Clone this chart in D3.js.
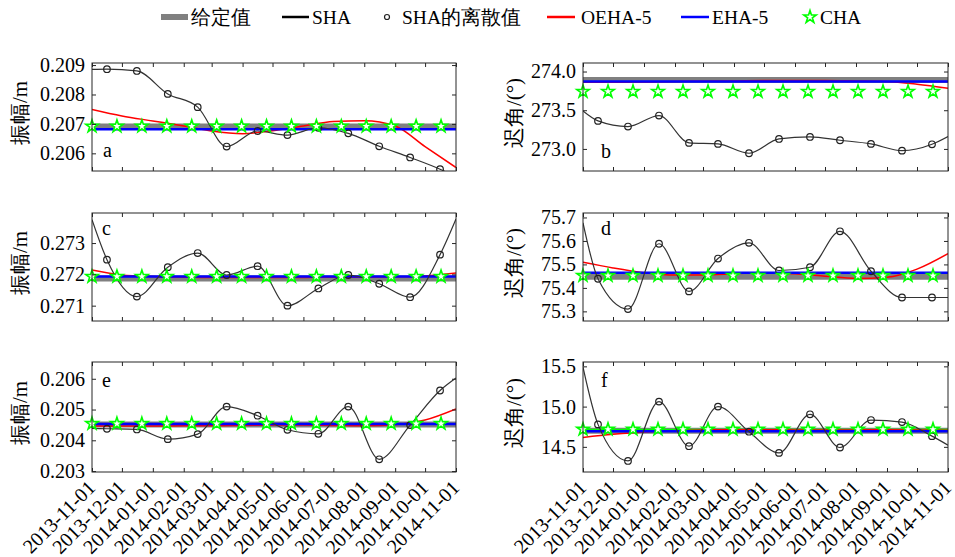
<!DOCTYPE html>
<html>
<head>
<meta charset="utf-8">
<script src="https://cdn.jsdelivr.net/npm/d3@7"></script>
<style>
  body { margin: 0; background: #fff; }
</style>
</head>
<body>
<div id="chart"></div>
<script>
// dates
const tickDates = ["2013-11-01", "2013-12-01", "2014-01-01", "2014-02-01", "2014-03-01", "2014-04-01",
  "2014-05-01", "2014-06-01", "2014-07-01", "2014-08-01", "2014-09-01", "2014-10-01", "2014-11-01"];
const midDates = ["2013-11-16", "2013-12-16", "2014-01-16", "2014-02-15", "2014-03-16", "2014-04-16",
  "2014-05-16", "2014-06-16", "2014-07-16", "2014-08-16", "2014-09-16", "2014-10-16"];
const chaDates = ["2013-11-01", "2013-11-26", "2013-12-21", "2014-01-15", "2014-02-09", "2014-03-06",
  "2014-03-31", "2014-04-25", "2014-05-20", "2014-06-14", "2014-07-09", "2014-08-03",
  "2014-08-28", "2014-09-22", "2014-10-17"];

// panel a : amplitude
const shaA = [0.20886, 0.20880, 0.20802, 0.20757, 0.20623, 0.20676, 0.20662, 0.20687, 0.20668, 0.20624, 0.20586, 0.20546];
const shaEndsA = [0.20885, 0.20520];
const oehaA = [0.20749, 0.20727, 0.20710, 0.20693, 0.20676, 0.20667, 0.20677, 0.20693, 0.20708, 0.20711, 0.20693, 0.20623, 0.20552];
const givenA = 0.20691, ehaA = 0.20682, chaA = 0.20692;
const ticksA = [0.206, 0.207, 0.208, 0.209];

// panel b : phase
const shaB = [273.362, 273.289, 273.431, 273.078, 273.065, 272.944, 273.129, 273.155, 273.112, 273.065, 272.978, 273.060];
const shaEndsB = [273.49, 273.16];
const oehaB = [273.862, 273.862, 273.866, 273.871, 273.875, 273.879, 273.884, 273.884, 273.884, 273.879, 273.871, 273.836, 273.784];
const givenB = 273.89, ehaB = 273.87, chaB = 273.741;
const ticksB = [273.0, 273.5, 274.0];

// panel c
const shaC = [0.27247, 0.27129, 0.27223, 0.27268, 0.27198, 0.27226, 0.27100, 0.27155, 0.27198, 0.27170, 0.27127, 0.27263];
const shaEndsC = [0.27375, 0.27377];
const oehaC = [0.27214, 0.27198, 0.27193, 0.27191, 0.27190, 0.27190, 0.27190, 0.27190, 0.27191, 0.27191, 0.27192, 0.27195, 0.27204];
const givenC = 0.27187, ehaC = 0.27193, chaC = 0.27193;
const ticksC = [0.271, 0.272, 0.273];

// panel d
const shaD = [75.439, 75.310, 75.588, 75.385, 75.525, 75.592, 75.474, 75.488, 75.641, 75.471, 75.359, 75.359];
const shaEndsD = [75.677, 75.359];
const oehaD = [75.509, 75.485, 75.465, 75.455, 75.455, 75.460, 75.465, 75.460, 75.450, 75.440, 75.445, 75.480, 75.546];
const givenD = 75.448, ehaD = 75.464, chaD = 75.452;
const ticksD = [75.3, 75.4, 75.5, 75.6, 75.7];

// panel e
const shaE = [0.204375, 0.204353, 0.204037, 0.204201, 0.205095, 0.204800, 0.204342, 0.204212, 0.205095, 0.203383, 0.204495, 0.205618];
const shaEndsE = [0.204386, 0.206022];
const oehaE = [0.204462, 0.204462, 0.204462, 0.204473, 0.204473, 0.204484, 0.204495, 0.204495, 0.204484, 0.204473, 0.204506, 0.204659, 0.205019];
const givenE = 0.20451, ehaE = 0.20453, chaE = 0.20454;
const ticksE = [0.203, 0.204, 0.205, 0.206];

// panel f
const shaF = [14.779, 14.325, 15.062, 14.508, 15.000, 14.688, 14.425, 14.904, 14.492, 14.833, 14.808, 14.633];
const shaEndsF = [15.49, 14.521];
const oehaF = [14.617, 14.655, 14.685, 14.700, 14.710, 14.712, 14.712, 14.710, 14.708, 14.710, 14.712, 14.710, 14.705];
const givenF = 14.70, ehaF = 14.695, chaF = 14.717;
const ticksF = [14.5, 15.0, 15.5];

const legendNames = ["给定值", "SHA", "SHA的离散值", "OEHA-5", "EHA-5", "CHA"];

const W = 955, H = 557;
const FONT = "'Liberation Serif', 'Times New Roman', Times, serif";
const parse = d3.timeParse("%Y-%m-%d");
const fmtDate = d3.timeFormat("%Y-%m-%d");
const starSize = 48;

const svg = d3.select("#chart").append("svg")
    .attr("width", W)
    .attr("height", H);

const panels = [
  { id: "a", x0: 92, y0: 63, w: 364, h: 108, dom: [0.20540, 0.20907], ticks: ticksA, fmt: ".3f", sha: shaA, ends: shaEndsA, oeha: oehaA, given: givenA, eha: ehaA, cha: chaA, title: "振幅/m", lab: [11, 94] },
  { id: "b", x0: 583, y0: 63, w: 365, h: 108, dom: [272.715, 274.11], ticks: ticksB, fmt: ".1f", sha: shaB, ends: shaEndsB, oeha: oehaB, given: givenB, eha: ehaB, cha: chaB, title: "迟角/(°)", lab: [18, 95] },
  { id: "c", x0: 92, y0: 213, w: 364, h: 108, dom: [0.27051, 0.27396], ticks: ticksC, fmt: ".3f", sha: shaC, ends: shaEndsC, oeha: oehaC, given: givenC, eha: ehaC, cha: chaC, title: "振幅/m", lab: [10, 22] },
  { id: "d", x0: 583, y0: 213, w: 365, h: 108, dom: [75.259, 75.719], ticks: ticksD, fmt: ".1f", sha: shaD, ends: shaEndsD, oeha: oehaD, given: givenD, eha: ehaD, cha: chaD, title: "迟角/(°)", lab: [18, 22] },
  { id: "e", x0: 92, y0: 362, w: 364, h: 110, dom: [0.20297, 0.206545], ticks: ticksE, fmt: ".3f", sha: shaE, ends: shaEndsE, oeha: oehaE, given: givenE, eha: ehaE, cha: chaE, title: "振幅/m", lab: [10, 25], bottom: true },
  { id: "f", x0: 583, y0: 362, w: 365, h: 110, dom: [14.1875, 15.554], ticks: ticksF, fmt: ".1f", sha: shaF, ends: shaEndsF, oeha: oehaF, given: givenF, eha: ehaF, cha: chaF, title: "迟角/(°)", lab: [18, 25], bottom: true, chaLine: true }
];

const tDates = tickDates.map(parse);
const mDates = midDates.map(parse);
const cDates = chaDates.map(parse);

panels.forEach(p => {
  const g = svg.append("g").attr("transform", `translate(${p.x0},${p.y0})`);
  const x = d3.scaleTime().domain([tDates[0], tDates[tDates.length - 1]]).range([0, p.w]);
  const y = d3.scaleLinear().domain(p.dom).range([p.h, 0]);

  g.append("clipPath").attr("id", "clip-" + p.id)
    .append("rect").attr("width", p.w).attr("height", p.h);
  const plot = g.append("g").attr("clip-path", `url(#clip-${p.id})`);

  const flat = v => [{ d: tDates[0], v: v }, { d: tDates[tDates.length - 1], v: v }];
  const line = d3.line().x(d => x(d.d)).y(d => y(d.v));
  const smooth = d3.line().x(d => x(d.d)).y(d => y(d.v)).curve(d3.curveMonotoneX);

  // given value
  plot.append("path").datum(flat(p.given)).attr("d", line)
    .attr("fill", "none").attr("stroke", "#808080").attr("stroke-width", 6);
  if (p.chaLine) {
    plot.append("path").datum(flat(p.cha)).attr("d", line)
      .attr("fill", "none").attr("stroke", "#00ff00").attr("stroke-width", 1.5);
  }
  // OEHA-5
  plot.append("path").datum(p.oeha.map((v, i) => ({ d: tDates[i], v: v }))).attr("d", smooth)
    .attr("fill", "none").attr("stroke", "#ff0000").attr("stroke-width", 1.5);
  // EHA-5
  plot.append("path").datum(flat(p.eha)).attr("d", line)
    .attr("fill", "none").attr("stroke", "#0000ff").attr("stroke-width", 2.5);

  // SHA
  const shaPts = [{ d: tDates[0], v: p.ends[0] }]
    .concat(p.sha.map((v, i) => ({ d: mDates[i], v: v })))
    .concat([{ d: tDates[tDates.length - 1], v: p.ends[1] }]);
  plot.append("path").datum(shaPts).attr("d", smooth)
    .attr("fill", "none").attr("stroke", "#333").attr("stroke-width", 1.2);
  plot.selectAll(".pt").data(p.sha).enter().append("circle")
    .attr("class", "pt")
    .attr("cx", (d, i) => x(mDates[i]))
    .attr("cy", d => y(d))
    .attr("r", 3.3)
    .attr("fill", "none")
    .attr("stroke", "#222")
    .attr("stroke-width", 1.2);

  // CHA stars
  g.selectAll(".star").data(cDates).enter().append("path")
    .attr("class", "star")
    .attr("transform", d => `translate(${x(d)},${y(p.cha)})`)
    .attr("d", d3.symbol().type(d3.symbolStar).size(starSize))
    .attr("fill", "#fff")
    .attr("stroke", "#00ff00")
    .attr("stroke-width", 1.6);

  // frame + ticks
  g.append("rect").attr("width", p.w).attr("height", p.h)
    .attr("fill", "none").attr("stroke", "#262626").attr("stroke-width", 1);

  const yl = g.append("g").call(d3.axisLeft(y).tickValues(p.ticks).tickFormat(d3.format(p.fmt)).tickSize(-4).tickPadding(7));
  const yr = g.append("g").attr("transform", `translate(${p.w},0)`)
    .call(d3.axisRight(y).tickValues(p.ticks).tickFormat("").tickSize(-4));
  const xt = g.append("g").call(d3.axisTop(x).tickValues(tDates).tickFormat("").tickSize(-4));
  const xb = g.append("g").attr("transform", `translate(0,${p.h})`)
    .call(d3.axisBottom(x).tickValues(tDates).tickFormat(p.bottom ? fmtDate : "").tickSize(-4));
  [yl, yr, xt, xb].forEach(a => {
    a.select(".domain").remove();
    a.selectAll("line").attr("stroke", "#262626");
  });
  yl.selectAll("text").style("font-family", FONT).style("font-size", "20px").attr("fill", "#000");
  if (p.bottom) {
    xb.selectAll("text")
      .style("font-family", FONT)
      .style("font-size", "20px")
      .attr("fill", "#000")
      .attr("text-anchor", "end")
      .attr("x", 0).attr("y", 0).attr("dy", 0)
      .attr("transform", "translate(4,17) rotate(-45)");
  }

  // y title
  const tx = p.x0 < 300 ? 20 - p.x0 : 514 - p.x0;
  g.append("text")
    .attr("transform", `translate(${tx + 7},${p.h / 2 - 4}) rotate(-90)`)
    .attr("text-anchor", "middle")
    .style("font-family", FONT)
    .style("font-size", "21px")
    .text(p.title);

  // panel letter
  g.append("text")
    .attr("x", p.lab[0]).attr("y", p.lab[1])
    .style("font-family", FONT)
    .style("font-size", "20px")
    .text(p.id);
});

// legend
const leg = svg.append("g");
const legY = 17;
leg.append("rect").attr("x", 161).attr("y", legY - 3).attr("width", 27).attr("height", 6).attr("fill", "#808080");
leg.append("line").attr("x1", 282).attr("x2", 309).attr("y1", legY).attr("y2", legY).attr("stroke", "#000").attr("stroke-width", 2.5);
leg.append("circle").attr("cx", 387).attr("cy", legY).attr("r", 2.5).attr("fill", "none").attr("stroke", "#222").attr("stroke-width", 1.2);
leg.append("line").attr("x1", 547).attr("x2", 575).attr("y1", legY).attr("y2", legY).attr("stroke", "#ff0000").attr("stroke-width", 2.5);
leg.append("line").attr("x1", 681).attr("x2", 709).attr("y1", legY).attr("y2", legY).attr("stroke", "#0000ff").attr("stroke-width", 2.5);
leg.append("path").attr("transform", `translate(810,${legY})`)
  .attr("d", d3.symbol().type(d3.symbolStar).size(starSize))
  .attr("fill", "#fff").attr("stroke", "#00ff00").attr("stroke-width", 1.6);
const legTextX = [191, 312, 402, 581, 712, 820];
leg.selectAll(".lt").data(legendNames).enter().append("text")
  .attr("class", "lt")
  .attr("x", (d, i) => legTextX[i])
  .attr("y", legY + 7)
  .style("font-family", FONT)
  .style("font-size", "19.5px")
  .text(d => d);
</script>
</body>
</html>
